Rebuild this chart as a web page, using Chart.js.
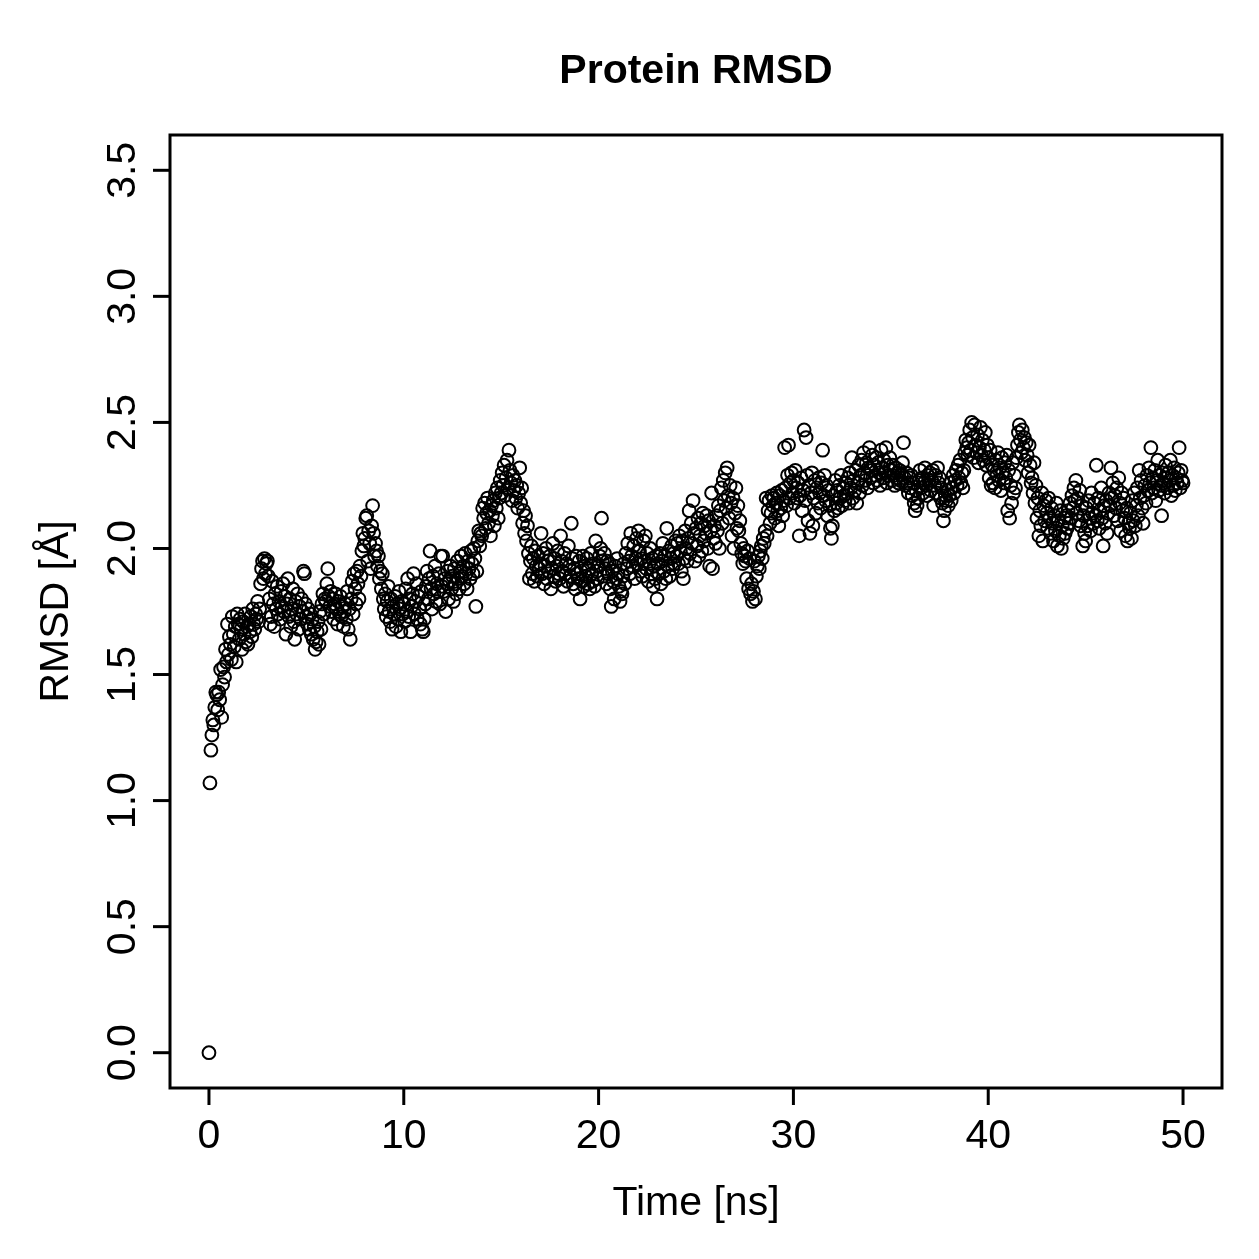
<!DOCTYPE html>
<html>
<head>
<meta charset="utf-8">
<title>Protein RMSD</title>
<script src="https://cdn.jsdelivr.net/npm/chart.js@4.4.1/dist/chart.umd.min.js"></script>
<style>
    html, body { margin: 0; padding: 0; background: #ffffff; }
    #wrap { width: 1259px; height: 1259px; }
</style>
</head>
<body>
<div id="wrap"><canvas id="rmsdChart" width="1259" height="1259"></canvas></div>
<script>
// Protein RMSD - R style scatter plot

const chartTitle = 'Protein RMSD';
const xLabel = 'Time [ns]';
const yLabel = 'RMSD [Å]';
const xTicks = [0, 10, 20, 30, 40, 50];
const yTicks = [0.0, 0.5, 1.0, 1.5, 2.0, 2.5, 3.0, 3.5];
const timeStep = 0.05; // ns between frames

// RMSD per frame, one row per ns (20 frames each)
const rmsd = [
    0.00, 1.07, 1.20, 1.26, 1.32, 1.30, 1.37, 1.43, 1.42, 1.36, 1.43, 1.40, 1.52, 1.33, 1.46, 1.53, 1.49, 1.60, 1.55, 1.70,
    1.58, 1.65, 1.62, 1.56, 1.73, 1.66, 1.61, 1.69, 1.55, 1.74, 1.70, 1.64, 1.72, 1.68, 1.60, 1.71, 1.66, 1.74, 1.63, 1.69,
    1.62, 1.70, 1.67, 1.73, 1.65, 1.76, 1.70, 1.68, 1.74, 1.72, 1.79, 1.71, 1.76, 1.86, 1.92, 1.95, 1.88, 1.96, 1.90, 1.94,
    1.95, 1.89, 1.80, 1.70, 1.73, 1.87, 1.78, 1.69, 1.82, 1.76, 1.85, 1.74, 1.79, 1.72, 1.83, 1.77, 1.86, 1.75, 1.81, 1.66,
    1.78, 1.88, 1.73, 1.80, 1.69, 1.76, 1.84, 1.71, 1.64, 1.79, 1.74, 1.82, 1.68, 1.77, 1.72, 1.80, 1.75, 1.91, 1.90, 1.78,
    1.73, 1.70, 1.76, 1.68, 1.74, 1.66, 1.72, 1.64, 1.69, 1.60, 1.63, 1.67, 1.71, 1.62, 1.75, 1.68, 1.78, 1.82, 1.74, 1.80,
    1.79, 1.86, 1.92, 1.81, 1.77, 1.83, 1.75, 1.80, 1.72, 1.78, 1.82, 1.76, 1.70, 1.79, 1.74, 1.81, 1.73, 1.77, 1.69, 1.75,
    1.78, 1.72, 1.83, 1.68, 1.76, 1.64, 1.80, 1.87, 1.74, 1.90, 1.84, 1.78, 1.91, 1.86, 1.80, 1.93, 1.89, 1.99, 2.06, 2.01,
    2.04, 2.12, 2.13, 1.95, 2.07, 2.02, 1.92, 2.09, 2.17, 2.06, 1.97, 2.02, 1.99, 1.93, 1.97, 1.88, 1.91, 1.84, 1.90, 1.80,
    1.76, 1.82, 1.73, 1.79, 1.85, 1.75, 1.71, 1.80, 1.68, 1.77, 1.74, 1.81, 1.69, 1.78, 1.72, 1.83, 1.76, 1.67, 1.79, 1.74,
    1.78, 1.71, 1.84, 1.75, 1.88, 1.73, 1.80, 1.67, 1.77, 1.82, 1.90, 1.74, 1.79, 1.86, 1.72, 1.81, 1.76, 1.70, 1.83, 1.68,
    1.67, 1.72, 1.78, 1.85, 1.91, 1.80, 1.88, 1.99, 1.84, 1.76, 1.89, 1.82, 1.93, 1.79, 1.86, 1.83, 1.90, 1.78, 1.97, 1.85,
    1.97, 1.83, 1.88, 1.75, 1.86, 1.91, 1.80, 1.87, 1.93, 1.84, 1.89, 1.79, 1.92, 1.86, 1.82, 1.95, 1.88, 1.84, 1.91, 1.97,
    1.89, 1.93, 1.86, 1.98, 1.90, 1.84, 1.95, 1.92, 1.88, 1.99, 1.94, 1.90, 2.00, 1.96, 1.77, 1.91, 2.03, 2.07, 2.01, 2.06,
    2.05, 2.16, 2.12, 2.18, 2.08, 2.14, 2.20, 2.10, 2.15, 2.05, 2.17, 2.13, 2.19, 2.09, 2.22, 2.16, 2.24, 2.12, 2.20, 2.27,
    2.22, 2.30, 2.25, 2.33, 2.21, 2.28, 2.35, 2.24, 2.39, 2.31, 2.26, 2.19, 2.29, 2.23, 2.27, 2.20, 2.25, 2.16, 2.22, 2.32,
    2.18, 2.24, 2.10, 2.15, 2.06, 2.13, 2.03, 2.09, 1.98, 1.88, 1.95, 2.01, 1.90, 1.96, 1.87, 1.99, 1.93, 1.89, 1.97, 1.92,
    1.94, 2.06, 1.90, 1.98, 1.86, 1.93, 2.00, 1.88, 1.95, 1.91, 1.97, 1.84, 1.92, 2.02, 1.89, 1.96, 1.87, 1.93, 1.99, 1.90,
    1.88, 2.05, 1.95, 1.91, 1.85, 1.98, 1.90, 1.94, 1.87, 2.01, 1.93, 1.89, 2.10, 1.96, 1.86, 1.92, 1.84, 1.97, 1.90, 1.88,
    1.95, 1.80, 1.91, 1.87, 1.97, 1.85, 1.93, 1.89, 1.96, 1.86, 1.92, 1.84, 1.98, 1.90, 1.87, 1.94, 1.85, 2.03, 1.91, 1.88,
    1.93, 1.97, 2.00, 2.12, 1.95, 1.89, 1.98, 1.92, 1.86, 1.95, 1.90, 1.94, 1.84, 1.77, 1.91, 1.87, 1.80, 1.93, 1.88, 1.96,
    1.90, 1.85, 1.79, 1.83, 1.82, 1.89, 1.94, 1.86, 1.98, 1.92, 2.02, 1.95, 1.90, 2.06, 1.97, 1.93, 2.01, 1.88, 1.96, 2.04,
    1.94, 2.07, 1.99, 1.91, 1.96, 1.89, 2.03, 1.95, 2.05, 1.92, 1.98, 1.87, 1.94, 2.00, 1.90, 1.96, 1.85, 1.93, 1.88, 1.97,
    1.80, 1.94, 1.90, 1.98, 1.86, 1.95, 2.02, 1.91, 1.97, 1.88, 2.08, 1.93, 1.99, 1.89, 1.96, 2.01, 1.92, 1.98, 1.94, 2.03,
    1.97, 2.02, 1.94, 2.05, 1.99, 1.91, 2.03, 1.88, 1.96, 2.07, 2.00, 1.95, 2.04, 2.15, 1.98, 2.10, 2.02, 2.19, 2.06, 1.95,
    2.08, 2.01, 2.12, 1.97, 2.05, 2.10, 1.99, 2.14, 2.03, 2.09, 2.06, 2.13, 2.00, 2.11, 1.93, 2.07, 2.22, 1.92, 2.04, 2.09,
    2.02, 2.13, 2.07, 2.17, 2.00, 2.15, 2.24, 2.10, 2.27, 2.19, 2.30, 2.16, 2.32, 2.21, 2.12, 2.25, 2.18, 2.05, 2.20, 2.00,
    2.14, 2.24, 2.08, 2.17, 2.07, 2.11, 2.02, 1.98, 1.94, 2.00, 1.97, 1.95, 1.88, 1.99, 1.84, 1.96, 1.82, 1.86, 1.79, 1.83,
    1.95, 1.80, 1.89, 1.93, 1.97, 1.92, 1.99, 2.01, 1.96, 2.04, 2.02, 2.07, 2.20, 2.05, 2.15, 2.19, 2.10, 2.14, 2.21, 2.17,
    2.20, 2.12, 2.18, 2.22, 2.15, 2.09, 2.21, 2.16, 2.23, 2.13, 2.19, 2.40, 2.24, 2.17, 2.29, 2.41, 2.20, 2.26, 2.30, 2.22,
    2.27, 2.18, 2.31, 2.24, 2.20, 2.26, 2.05, 2.21, 2.28, 2.15, 2.23, 2.47, 2.19, 2.44, 2.29, 2.11, 2.25, 2.06, 2.22, 2.30,
    2.09, 2.20, 2.27, 2.14, 2.24, 2.18, 2.28, 2.22, 2.16, 2.26, 2.39, 2.21, 2.29, 2.19, 2.25, 2.13, 2.23, 2.17, 2.08, 2.04,
    2.09, 2.21, 2.15, 2.27, 2.18, 2.23, 2.16, 2.25, 2.20, 2.29, 2.17, 2.24, 2.21, 2.19, 2.26, 2.22, 2.28, 2.18, 2.30, 2.24,
    2.36, 2.20, 2.27, 2.23, 2.31, 2.18, 2.26, 2.33, 2.22, 2.29, 2.35, 2.25, 2.38, 2.30, 2.27, 2.34, 2.24, 2.32, 2.40, 2.28,
    2.31, 2.37, 2.26, 2.33, 2.29, 2.36, 2.27, 2.34, 2.30, 2.25, 2.39, 2.32, 2.28, 2.35, 2.30, 2.40, 2.26, 2.33, 2.29, 2.36,
    2.31, 2.27, 2.33, 2.29, 2.25, 2.32, 2.28, 2.30, 2.26, 2.31, 2.27, 2.29, 2.34, 2.42, 2.28, 2.25, 2.30, 2.26, 2.22, 2.28,
    2.24, 2.29, 2.21, 2.26, 2.18, 2.15, 2.23, 2.17, 2.20, 2.27, 2.31, 2.24, 2.28, 2.22, 2.26, 2.32, 2.25, 2.21, 2.29, 2.27,
    2.30, 2.23, 2.27, 2.31, 2.17, 2.25, 2.29, 2.22, 2.32, 2.26, 2.28, 2.20, 2.24, 2.18, 2.11, 2.15, 2.21, 2.19, 2.23, 2.17,
    2.21, 2.26, 2.19, 2.24, 2.29, 2.22, 2.27, 2.31, 2.25, 2.33, 2.28, 2.35, 2.26, 2.30, 2.24, 2.31, 2.38, 2.43, 2.40, 2.37,
    2.42, 2.47, 2.39, 2.50, 2.44, 2.36, 2.49, 2.41, 2.38, 2.45, 2.34, 2.40, 2.48, 2.37, 2.43, 2.35, 2.39, 2.46, 2.33, 2.41,
    2.36, 2.28, 2.39, 2.25, 2.33, 2.26, 2.31, 2.24, 2.35, 2.29, 2.38, 2.27, 2.32, 2.23, 2.36, 2.30, 2.26, 2.34, 2.28, 2.37,
    2.15, 2.31, 2.12, 2.25, 2.18, 2.34, 2.22, 2.29, 2.24, 2.36, 2.41, 2.46, 2.49, 2.43, 2.38, 2.47, 2.40, 2.44, 2.35, 2.42,
    2.37, 2.30, 2.41, 2.33, 2.26, 2.28, 2.22, 2.34, 2.18, 2.25, 2.12, 2.20, 2.05, 2.15, 2.09, 2.22, 2.03, 2.17, 2.11, 2.19,
    2.14, 2.08, 2.20, 2.12, 2.06, 2.16, 2.10, 2.03, 2.13, 2.07, 2.18, 2.01, 2.11, 2.05, 2.15, 2.00, 2.09, 2.04, 2.12, 2.06,
    2.13, 2.08, 2.15, 2.10, 2.18, 2.12, 2.21, 2.16, 2.24, 2.19, 2.27, 2.14, 2.20, 2.11, 2.23, 2.09, 2.17, 2.01, 2.13, 2.06,
    2.03, 2.16, 2.09, 2.19, 2.12, 2.07, 2.22, 2.14, 2.10, 2.18, 2.13, 2.33, 2.11, 2.20, 2.08, 2.15, 2.24, 2.12, 2.01, 2.17,
    2.10, 2.19, 2.06, 2.14, 2.22, 2.17, 2.32, 2.20, 2.26, 2.13, 2.21, 2.16, 2.24, 2.11, 2.28, 2.18, 2.07, 2.22, 2.15, 2.20,
    2.12, 2.05, 2.16, 2.03, 2.10, 2.08, 2.14, 2.04, 2.19, 2.11, 2.22, 2.09, 2.17, 2.24, 2.13, 2.31, 2.20, 2.27, 2.16, 2.10,
    2.21, 2.25, 2.18, 2.29, 2.23, 2.32, 2.26, 2.40, 2.22, 2.28, 2.24, 2.31, 2.19, 2.27, 2.35, 2.23, 2.29, 2.25, 2.13, 2.30,
    2.26, 2.22, 2.33, 2.28, 2.24, 2.30, 2.27, 2.35, 2.21, 2.29, 2.25, 2.32, 2.23, 2.28, 2.26, 2.30, 2.40, 2.24, 2.31, 2.27,
    2.26
];

const points = rmsd.map((v, i) => ({ x: i * timeStep, y: v }));

const fontFamily = '"Liberation Sans", Arial, Helvetica, sans-serif';

// Draws the R style box, ticks and labels
const rAxes = {
    id: 'rAxes',
    afterDraw(chart) {
        const ctx = chart.ctx;
        const area = chart.chartArea;
        const xs = chart.scales.x;
        const ys = chart.scales.y;

        ctx.save();
        ctx.strokeStyle = '#000';
        ctx.fillStyle = '#000';
        ctx.lineWidth = 3;
        ctx.lineCap = 'butt';

        ctx.strokeRect(area.left, area.top, area.right - area.left, area.bottom - area.top);

        // x ticks
        ctx.font = '41px ' + fontFamily;
        ctx.textAlign = 'center';
        ctx.textBaseline = 'alphabetic';
        xTicks.forEach(t => {
            const px = xs.getPixelForValue(t);
            ctx.beginPath();
            ctx.moveTo(px, area.bottom);
            ctx.lineTo(px, area.bottom + 17);
            ctx.stroke();
            ctx.fillText(String(t), px, 1148);
        });

        // y ticks (rotated labels)
        yTicks.forEach(t => {
            const py = ys.getPixelForValue(t);
            ctx.beginPath();
            ctx.moveTo(area.left, py);
            ctx.lineTo(area.left - 17, py);
            ctx.stroke();
            ctx.save();
            ctx.translate(135, py);
            ctx.rotate(-Math.PI / 2);
            ctx.fillText(t.toFixed(1), 0, 0);
            ctx.restore();
        });

        const midX = (area.left + area.right) / 2;
        const midY = (area.top + area.bottom) / 2;

        ctx.fillText(xLabel, midX, 1215);

        ctx.save();
        ctx.translate(68, midY);
        ctx.rotate(-Math.PI / 2);
        ctx.fillText(yLabel, 0, 0);
        ctx.restore();

        ctx.font = 'bold 41px ' + fontFamily;
        ctx.fillText(chartTitle, midX, 83);

        ctx.restore();
    }
};

new Chart(document.getElementById('rmsdChart'), {
    type: 'scatter',
    data: {
        datasets: [{
            label: 'RMSD',
            data: points,
            pointStyle: 'circle',
            pointRadius: 6.4,
            pointBorderWidth: 2,
            pointBorderColor: '#000000',
            pointBackgroundColor: 'rgba(0,0,0,0)',
            clip: false
        }]
    },
    options: {
        responsive: false,
        animation: false,
        devicePixelRatio: 1,
        layout: {
            padding: { left: 170, top: 135, right: 37, bottom: 171 }
        },
        plugins: {
            legend: { display: false },
            tooltip: { enabled: false }
        },
        scales: {
            x: { type: 'linear', min: -2, max: 52, display: false },
            y: { type: 'linear', min: -0.14, max: 3.64, display: false }
        }
    },
    plugins: [rAxes]
});
</script>
</body>
</html>
